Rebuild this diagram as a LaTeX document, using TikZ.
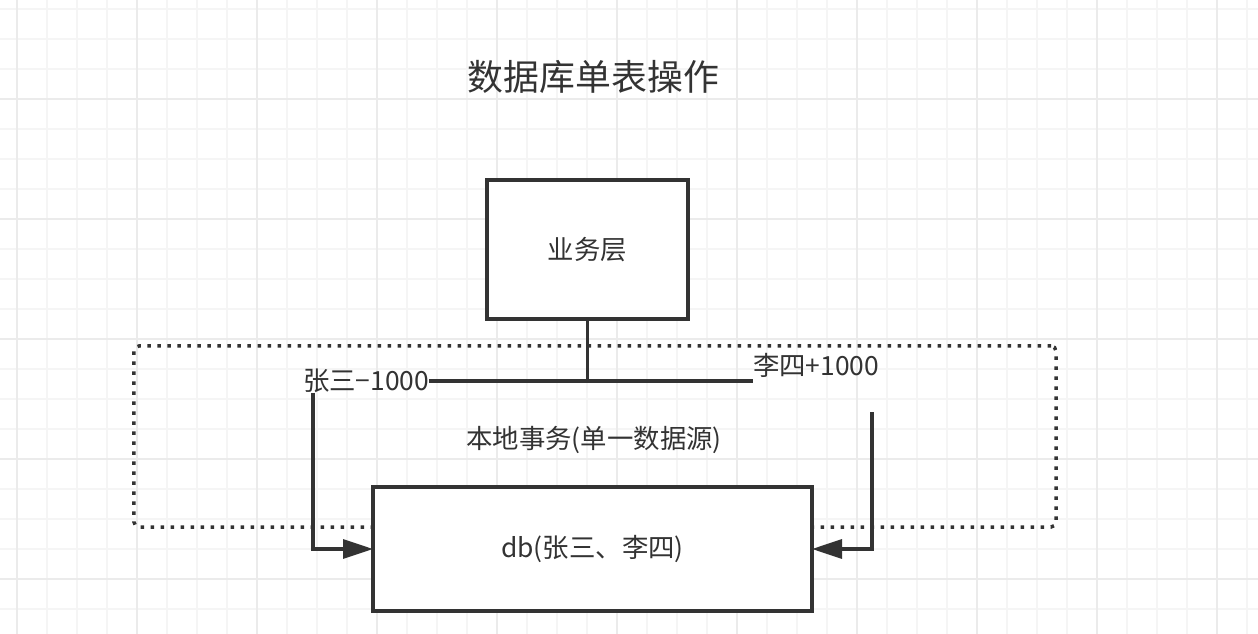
\documentclass[tikz,border=0pt]{standalone}
\usepackage{fontspec}
\setmainfont{Noto Sans CJK SC}
\usetikzlibrary{arrows.meta}
\definecolor{ln}{HTML}{333333}
\definecolor{gmin}{HTML}{F5F5F5}
\definecolor{gmaj}{HTML}{EBEBEB}
\begin{document}
\begin{tikzpicture}[x=1bp,y=-1bp,
  box/.style={draw=ln, line width=3.3bp, fill=white, inner sep=0, outer sep=0},
  lbl/.style={text=ln, font=\fontsize{26.5}{31}\selectfont, inner sep=0, outer sep=0},
  group/.style={draw=ln, line width=3.5bp, dash pattern=on 3.5bp off 6.5bp, rounded corners=5bp, inner sep=0, outer sep=0},
  conn/.style={draw=ln, line width=3.3bp},
  arr/.style={conn, -{Triangle[length=30bp,width=19bp]}},
]
\useasboundingbox (0,0) rectangle (1258,634);
\fill[white] (0,0) rectangle (1258,634);
\foreach \x in {17,47,...,1258} \draw[gmin, line width=1.5bp] (\x,0) -- (\x,634);
\foreach \y in {9,39,...,634} \draw[gmin, line width=1.5bp] (0,\y) -- (1258,\y);
\foreach \x in {17,137,...,1258} \draw[gmaj, line width=2bp] (\x,0) -- (\x,634);
\foreach \y in {99,219,...,634} \draw[gmaj, line width=2bp] (0,\y) -- (1258,\y);

\node[lbl, font=\fontsize{36}{42}\selectfont] (title) at (593.5,77) {数据库单表操作};

\node[group, minimum width=922bp, minimum height=181bp] (tx) at (595,436.5) {};
\node[lbl] (txl) at (594,440) {本地事务(单一数据源)};

\node[box, minimum width=201bp, minimum height=139bp] (biz) at (587.5,249.5) {\fontsize{26.5}{31}\selectfont\color{ln}业务层};
\node[box, minimum width=439bp, minimum height=124bp] (db) at (592.5,549) {\fontsize{26.5}{31}\selectfont\color{ln}db(张三、李四)};

\node[lbl, anchor=west] (zs) at (303,381) {张三−1000};
\node[lbl, anchor=west] (ls) at (753,365) {李四+1000};
\coordinate (rs) at (872,412);

\draw[conn] (zs.east) -- (zs.east -| ls.west);
\draw[conn] (biz.south) -- (biz.south |- zs.east);
\draw[arr] ([xshift=10bp]zs.south west) |- (db.west);
\draw[arr] (rs) |- (db.east);
\end{tikzpicture}
\end{document}
